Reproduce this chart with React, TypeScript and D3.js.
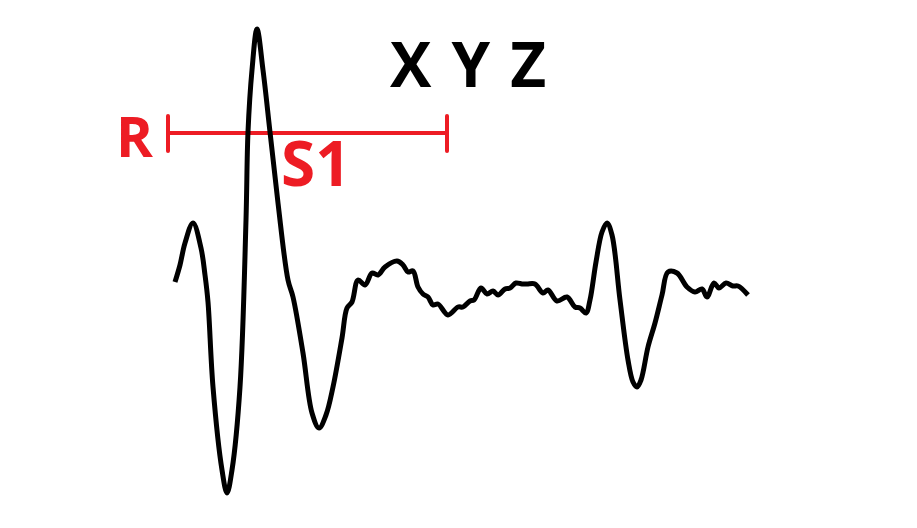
import { useEffect, useRef } from "react";
import * as d3 from "d3";

// waveform samples (time, amplitude)
const times = [
    1, 6, 11, 19, 27, 31, 34, 39, 48, 53, 58, 66, 72, 74, 78, 83, 89, 96, 104, 114, 119, 129, 138, 145, 152, 159,
    168, 173, 178, 184, 191, 198, 204, 211, 223, 229, 234, 239, 244, 249, 254, 259, 264, 274, 284, 289, 296, 300, 307,
    313, 319, 324, 331, 336, 342, 348, 353, 361, 369, 374, 383, 393, 401, 406, 412, 416, 422, 428, 433, 438, 446, 454,
    459, 463, 467, 474, 481, 488, 494, 503, 513, 521, 528, 533, 540, 545, 552, 559, 564, 574,
];
const amplitudes = [
    8, 25, 47, 67, 42, 15, -12, -97, -180, -203, -180, -97, 70, 158, 220, 261, 220, 158, 87, 10, -7, -63, -123,
    -138, -125, -97, -48, -18, -12, 10, 5, 17, 15, 23, 29, 25, 18, 19, 3, -4, -7, -15, -14, -25, -17, -17, -11, -10, 2,
    -4, -1, -5, 1, 2, 7, 6, 6, 6, -3, 0, -11, -7, -17, -18, -23, -10, 28, 58, 67, 55, -10, -70, -92, -97, -90, -57,
    -33, -5, 18, 17, 3, -2, 1, -7, 7, 2, 7, 4, 4, -5,
];

// interval bracket and labels
const bracketStart = -6;
const bracketEnd = 273;
const bracketLevel = 157;
const titleText = "X Y Z";
const startLabel = "R";
const intervalLabel = "S1";

export default function App() {
    const chartRef = useRef<SVGSVGElement>(null);

    useEffect(() => {
        if (!chartRef.current) return;
        d3.select(chartRef.current).selectAll("*").remove();

        const width = 917;
        const height = 528;
        const red = "#ed1c24";
        const font = "'Open Sans', sans-serif";

        const svg = d3.select(chartRef.current).attr("width", width).attr("height", height);

        const x = d3.scaleLinear().domain([0, 574]).range([174, 748]);
        const y = d3.scaleLinear().domain([-203, 261]).range([493, 29]);

        const data = times.map((t, i) => [t, amplitudes[i]] as [number, number]);

        const line = d3
            .line<[number, number]>()
            .x((d) => x(d[0]))
            .y((d) => y(d[1]))
            .curve(d3.curveCatmullRom.alpha(0.5));

        // title
        svg.append("text")
            .attr("x", x(216))
            .attr("y", y(203))
            .attr("font-family", font)
            .attr("font-weight", 700)
            .attr("font-size", 62)
            .attr("letter-spacing", 2)
            .attr("fill", "#000")
            .text(titleText);

        // bracket
        const bracket = svg.append("g").attr("stroke", red).attr("stroke-width", 4).attr("stroke-linecap", "round");
        bracket.append("line")
            .attr("x1", x(bracketStart))
            .attr("x2", x(bracketEnd))
            .attr("y1", y(bracketLevel))
            .attr("y2", y(bracketLevel));
        [bracketStart, bracketEnd].forEach((t) => {
            bracket.append("line")
                .attr("x1", x(t))
                .attr("x2", x(t))
                .attr("y1", y(bracketLevel) - 17)
                .attr("y2", y(bracketLevel) + 18);
        });

        svg.append("text")
            .attr("x", x(-21))
            .attr("y", y(133))
            .attr("text-anchor", "end")
            .attr("font-family", font)
            .attr("font-weight", 700)
            .attr("font-size", 56)
            .attr("fill", red)
            .text(startLabel);

        svg.append("text")
            .attr("x", x(107))
            .attr("y", y(104))
            .attr("font-family", font)
            .attr("font-weight", 700)
            .attr("font-size", 62)
            .attr("fill", red)
            .text(intervalLabel);

        // trace
        svg.append("path")
            .datum(data)
            .attr("d", line)
            .attr("fill", "none")
            .attr("stroke", "#000")
            .attr("stroke-width", 5)
            .attr("stroke-linejoin", "round")
            .attr("stroke-linecap", "butt");
    }, []);

    return (
        <div style={{ position: "absolute", left: 0, top: 0 }}>
            <svg ref={chartRef} style={{ display: "block" }} />
        </div>
    );
}
